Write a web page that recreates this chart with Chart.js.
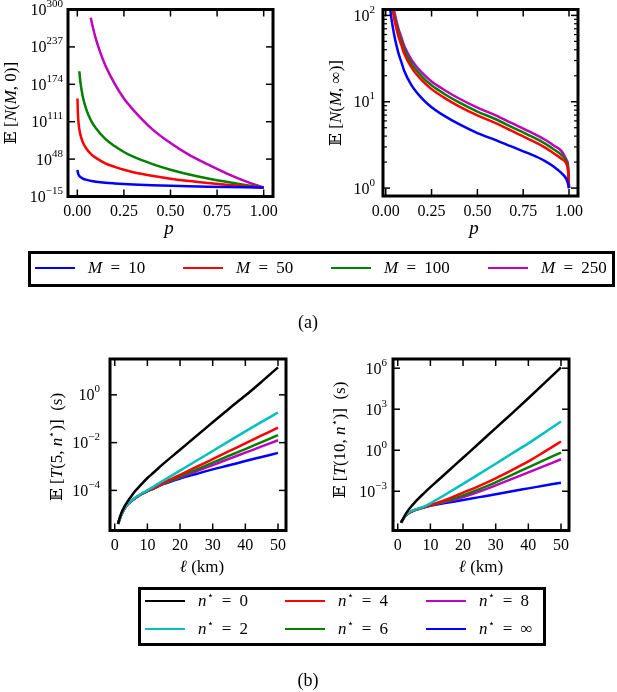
<!DOCTYPE html>
<html>
<head>
<meta charset="utf-8">
<script src="https://cdn.jsdelivr.net/npm/chart.js@4.4.1/dist/chart.umd.min.js"></script>
<style>
  html, body { margin: 0; padding: 0; background: #fff; }
  body { position: relative; width: 617px; height: 692px; overflow: hidden; font-family: "Liberation Serif", "DejaVu Serif", serif; }
  canvas { position: absolute; left: 0; top: 0; }
  .box { position: absolute; border: 3px solid #000; box-sizing: border-box; }
  .key { position: absolute; height: 2px; width: 40px; }
  .txt { position: absolute; font-size: 17px; line-height: 20px; white-space: nowrap; word-spacing: 4px; }
  .txt sup { font-size: 11px; vertical-align: 0; position: relative; top: -7px; font-family: "DejaVu Serif", serif; }
  .cap { position: absolute; font-size: 18px; line-height: 20px; width: 60px; text-align: center; }
</style>
</head>
<body>
<canvas id="panelA1" width="617" height="692"></canvas>
<canvas id="panelA2" width="617" height="692"></canvas>
<canvas id="panelB1" width="617" height="692"></canvas>
<canvas id="panelB2" width="617" height="692"></canvas>
<div class="cap" style="left:278px;top:312px">(a)</div>
<div class="cap" style="left:278px;top:670px">(b)</div>
<script>
// ---- (a) left: E[N(M,0)] against p ----
var pM10 = [0.001, 0.002, 0.005, 0.01, 0.02, 0.03, 0.05, 0.075, 0.1, 0.15, 0.2, 0.25, 0.3, 0.4, 0.5, 0.6, 0.7, 0.8, 0.9, 1.0];
var nM10 = [1e30, 1e27, 1e23, 1e20, 1e17, 1.6e15, 1e13, 1.6e11, 1e10, 1.6e8, 1e7, 1e6, 1.6e5, 1e4, 1e3, 160, 35, 9.3, 2.9, 1];
var pM50 = [0.001, 0.002, 0.005, 0.01, 0.02, 0.03, 0.05, 0.075, 0.1, 0.15, 0.2, 0.25, 0.3, 0.4, 0.5, 0.6, 0.7, 0.8, 0.9, 1.0];
var nM50 = [1e150, 1e135, 1e115, 1e100, 1e85, 1e76, 1e65, 1e56, 1e50, 1e41, 1e35, 1e30, 1e26, 1e20, 1e15, 1e11, 6e7, 7e4, 200, 1];
var pM100 = [0.011, 0.015, 0.02, 0.03, 0.05, 0.075, 0.1, 0.15, 0.2, 0.25, 0.3, 0.4, 0.5, 0.6, 0.7, 0.8, 0.9, 1.0];
var nM100 = [1e196, 1e182, 1e170, 1e152, 1e130, 1e112, 1e100, 1e82, 1e70, 1e60, 1e52, 1e40, 1e30, 1e22, 3e15, 5e9, 4e4, 1];
var pM250 = [0.072, 0.085, 0.1, 0.125, 0.15, 0.2, 0.25, 0.3, 0.4, 0.5, 0.6, 0.7, 0.8, 0.9, 1.0];
var nM250 = [1e286, 1e268, 1e250, 1e226, 1e206, 1e175, 1e150, 1e131, 1e99, 1e75, 1e55, 1e39, 1e24, 1e11, 1];

// ---- (a) right: E[N(M,inf)] against p ----
var pInf = [0.02, 0.03, 0.04, 0.05, 0.07, 0.085, 0.1, 0.14, 0.2, 0.25, 0.32, 0.4, 0.5, 0.6, 0.685, 0.78, 0.867, 0.92, 0.958, 0.985, 0.995, 1.0];
var infM10 = [140, 95, 70, 54, 36, 29, 23, 15.6, 10.8, 8.65, 6.85, 5.49, 4.34, 3.6, 3.04, 2.52, 2.07, 1.75, 1.5, 1.28, 1.12, 1.0];
var infM50 = [217, 147, 108.5, 83.7, 56.2, 45.5, 36.3, 25, 17.4, 14.0, 11.1, 8.84, 6.94, 5.65, 4.62, 3.7, 2.96, 2.5, 2.19, 1.92, 1.55, 1.0];
var infM100 = [241, 163, 120, 93, 62.4, 50.5, 40.3, 27.7, 19.3, 15.5, 12.3, 9.81, 7.7, 6.27, 5.13, 4.11, 3.29, 2.78, 2.43, 2.05, 1.68, 1.0];
var infM250 = [268, 181, 133, 103, 69.3, 56, 44.7, 30.8, 21.4, 17.2, 13.7, 10.9, 8.55, 6.96, 5.69, 4.56, 3.65, 3.08, 2.7, 2.15, 1.8, 1.0];

// ---- (b): E[T(k,n*)] in seconds, read as log10 values, against l (km) ----
var ell = [1, 2, 3, 4, 5, 6, 8, 10, 12, 15, 20, 25, 30, 35, 40, 45, 50];
var t5n0 = [-5.4, -4.95, -4.67, -4.45, -4.26, -4.07, -3.77, -3.48, -3.24, -2.87, -2.3, -1.72, -1.15, -0.58, -0.03, 0.55, 1.15];
var t5n2 = [-5.4, -5.01, -4.75, -4.57, -4.44, -4.33, -4.15, -4.0, -3.83, -3.58, -3.17, -2.76, -2.35, -1.94, -1.53, -1.13, -0.74];
var t5n4 = [-5.4, -5.02, -4.76, -4.58, -4.45, -4.34, -4.16, -4.02, -3.89, -3.68, -3.35, -3.02, -2.69, -2.36, -2.03, -1.7, -1.37];
var t5n6 = [-5.4, -5.02, -4.76, -4.58, -4.46, -4.35, -4.17, -4.03, -3.9, -3.71, -3.42, -3.13, -2.84, -2.55, -2.27, -1.98, -1.69];
var t5n8 = [-5.4, -5.02, -4.76, -4.58, -4.46, -4.35, -4.17, -4.03, -3.91, -3.72, -3.46, -3.2, -2.94, -2.68, -2.42, -2.16, -1.9];
var t5nInf = [-5.4, -5.02, -4.76, -4.58, -4.46, -4.35, -4.17, -4.03, -3.92, -3.73, -3.5, -3.31, -3.12, -2.95, -2.77, -2.6, -2.43];
var t10n0 = [-5.3, -4.85, -4.45, -4.15, -3.88, -3.62, -3.15, -2.7, -2.27, -1.63, -0.55, 0.53, 1.62, 2.7, 3.8, 4.92, 6.06];
var t10n2 = [-5.3, -4.88, -4.63, -4.48, -4.38, -4.29, -4.12, -3.88, -3.6, -3.18, -2.46, -1.73, -0.99, -0.24, 0.5, 1.3, 2.1];
var t10n4 = [-5.3, -4.9, -4.65, -4.5, -4.4, -4.31, -4.16, -4.0, -3.85, -3.6, -3.1, -2.6, -2.05, -1.45, -0.82, -0.1, 0.64];
var t10n6 = [-5.3, -4.9, -4.65, -4.5, -4.4, -4.32, -4.17, -4.03, -3.9, -3.7, -3.3, -2.85, -2.35, -1.81, -1.25, -0.7, -0.17];
var t10n8 = [-5.3, -4.9, -4.65, -4.5, -4.4, -4.32, -4.18, -4.04, -3.93, -3.76, -3.42, -3.02, -2.57, -2.1, -1.62, -1.14, -0.66];
var t10nInf = [-5.3, -4.9, -4.65, -4.5, -4.4, -4.32, -4.18, -4.06, -3.97, -3.85, -3.64, -3.43, -3.22, -3.0, -2.79, -2.58, -2.37];

// legend labels and tick labels
var mLabels = ['10', '50', '100', '250'];
var nStarLabels = ['0', '2', '4', '6', '8', '∞'];
var pTicks = [0, 0.25, 0.5, 0.75, 1];
var pTickLabels = ['0.00', '0.25', '0.50', '0.75', '1.00'];
var ellTicks = [0, 10, 20, 30, 40, 50];
var ellTickLabels = ['0', '10', '20', '30', '40', '50'];
var yTicksA1 = [1e-15, 1e48, 1e111, 1e174, 1e237, 1e300];
var yExpA1 = ['−15', '48', '111', '174', '237', '300'];
var yTicksA2 = [1, 10, 100];
var yExpA2 = ['0', '1', '2'];
var yMinorA2 = [2, 3, 4, 5, 6, 7, 8, 9, 20, 30, 40, 50, 60, 70, 80, 90];
var yTicksB1 = [1e-4, 1e-2, 1];
var yExpB1 = ['−4', '−2', '0'];
var yTicksB2 = [1e-3, 1, 1e3, 1e6];
var yExpB2 = ['−3', '0', '3', '6'];

var colorsA = ['#0000ff', '#ff0000', '#008000', '#bf00bf'];
var colorsB = ['#000000', '#00bfbf', '#ff0000', '#008000', '#bf00bf', '#0000ff'];

var W = 617, H = 692;
var SERIF = '"Liberation Serif", "DejaVu Serif", "DejaVu Sans", serif';
var R = '17px ' + SERIF, I = 'italic 17px ' + SERIF, S = '11px "DejaVu Serif", serif';

function pts(xs, ys) {
    return xs.map(function (x, i) { return { x: x, y: ys[i] }; });
}
function ptsLog(xs, es) {
    return xs.map(function (x, i) { return { x: x, y: Math.pow(10, es[i]) }; });
}

function rich(ctx, parts, x, y, rot) {
    ctx.save();
    ctx.translate(x, y);
    if (rot) ctx.rotate(rot);
    ctx.textAlign = 'left';
    ctx.textBaseline = 'alphabetic';
    var w = 0;
    parts.forEach(function (p) { ctx.font = p.f; p.w = ctx.measureText(p.t).width; w += p.w; });
    var cx = -w / 2;
    parts.forEach(function (p) { ctx.font = p.f; ctx.fillText(p.t, cx, p.dy || 0); cx += p.w; });
    ctx.restore();
}

function powLabel(ctx, e, xr, y) {
    ctx.textAlign = 'left';
    ctx.textBaseline = 'alphabetic';
    ctx.font = '16px ' + SERIF;
    var wb = ctx.measureText('10').width;
    ctx.font = '11px ' + SERIF;
    var we = ctx.measureText(e).width;
    var x0 = xr - wb - we;
    ctx.font = '16px ' + SERIF;
    ctx.fillText('10', x0, y + 5.5);
    ctx.font = '11px ' + SERIF;
    ctx.fillText(e, x0 + wb, y - 2.5);
}

function axesPlugin(p) {
    return {
        id: 'mplAxes',
        afterDatasetsDraw: function (chart) {
            var ctx = chart.ctx, xs = chart.scales.x, ys = chart.scales.y, a = chart.chartArea;
            var seg = function (x1, y1, x2, y2) { ctx.beginPath(); ctx.moveTo(x1, y1); ctx.lineTo(x2, y2); ctx.stroke(); };
            ctx.save();
            ctx.strokeStyle = '#000';
            ctx.fillStyle = '#000';
            ctx.lineWidth = 1.5;
            p.xTicks.forEach(function (v) {
                var x = xs.getPixelForValue(v);
                seg(x, a.bottom, x, a.bottom - 7);
                seg(x, a.top, x, a.top + 7);
            });
            p.yTicks.forEach(function (v) {
                var y = ys.getPixelForValue(v);
                seg(a.left, y, a.left + 7, y);
                seg(a.right, y, a.right - 7, y);
            });
            ctx.lineWidth = 1.2;
            (p.yMinor || []).forEach(function (v) {
                var y = ys.getPixelForValue(v);
                seg(a.left, y, a.left + 4, y);
                seg(a.right, y, a.right - 4, y);
            });
            ctx.lineWidth = 3;
            ctx.strokeRect(a.left, a.top, a.right - a.left, a.bottom - a.top);

            ctx.font = '16px ' + SERIF;
            ctx.textAlign = 'center';
            ctx.textBaseline = 'alphabetic';
            p.xTicks.forEach(function (v, i) {
                ctx.fillText(p.xLabels[i], xs.getPixelForValue(v), a.bottom + 19.5);
            });
            p.yTicks.forEach(function (v, i) {
                powLabel(ctx, p.yExps[i], a.left - p.gap, ys.getPixelForValue(v));
            });
            rich(ctx, p.xTitle, p.xTitlePos[0], p.xTitlePos[1], 0);
            rich(ctx, p.yTitle, p.yTitlePos[0], p.yTitlePos[1], -Math.PI / 2);
            ctx.restore();
        }
    };
}

function makePanel(id, p) {
    var a = p.area;
    return new Chart(document.getElementById(id), {
        type: 'line',
        data: {
            datasets: p.series.map(function (s) {
                return {
                    data: s.data,
                    borderColor: s.color,
                    borderWidth: 2.5,
                    pointRadius: 0,
                    fill: false,
                    cubicInterpolationMode: 'monotone'
                };
            })
        },
        options: {
            responsive: false,
            animation: false,
            devicePixelRatio: 1,
            layout: { padding: { left: a[0], top: a[1], right: W - a[2], bottom: H - a[3] } },
            plugins: { legend: { display: false }, tooltip: { enabled: false } },
            scales: {
                x: { type: 'linear', min: p.xMin, max: p.xMax, display: false },
                y: { type: 'logarithmic', min: p.yMin, max: p.yMax, display: false }
            }
        },
        plugins: [axesPlugin(p)]
    });
}

makePanel('panelA1', {
    area: [68, 9.5, 273, 196.5],
    xMin: -0.05, xMax: 1.05, yMin: 1e-15, yMax: 1e300,
    series: [
        { data: pts(pM10, nM10), color: colorsA[0] },
        { data: pts(pM50, nM50), color: colorsA[1] },
        { data: pts(pM100, nM100), color: colorsA[2] },
        { data: pts(pM250, nM250), color: colorsA[3] }
    ],
    xTicks: pTicks, xLabels: pTickLabels,
    yTicks: yTicksA1, yExps: yExpA1, gap: 5,
    xTitle: [{ t: 'p', f: 'italic 19px ' + SERIF }], xTitlePos: [169, 234],
    yTitle: [{ t: '𝔼 [', f: R }, { t: 'N', f: I }, { t: '(', f: R }, { t: 'M', f: I }, { t: ', 0)]', f: R }],
    yTitlePos: [16, 103]
});

makePanel('panelA2', {
    area: [383, 9.5, 578, 196],
    xMin: -0.015, xMax: 1.049, yMin: 0.81, yMax: 117,
    series: [
        { data: pts(pInf, infM10), color: colorsA[0] },
        { data: pts(pInf, infM50), color: colorsA[1] },
        { data: pts(pInf, infM100), color: colorsA[2] },
        { data: pts(pInf, infM250), color: colorsA[3] }
    ],
    xTicks: pTicks, xLabels: pTickLabels,
    yTicks: yTicksA2, yExps: yExpA2, yMinor: yMinorA2, gap: 8,
    xTitle: [{ t: 'p', f: 'italic 19px ' + SERIF }], xTitlePos: [474, 234],
    yTitle: [{ t: '𝔼 [', f: R }, { t: 'N', f: I }, { t: '(', f: R }, { t: 'M', f: I }, { t: ', ∞)]', f: R }],
    yTitlePos: [341, 103]
});

var seriesB1 = [t5n0, t5n2, t5n4, t5n6, t5n8, t5nInf];
var seriesB2 = [t10n0, t10n2, t10n4, t10n6, t10n8, t10nInf];

makePanel('panelB1', {
    area: [110, 359, 286, 530.5],
    xMin: -1.45, xMax: 52.45, yMin: 2.1e-6, yMax: 31.6,
    series: seriesB1.map(function (s, i) { return { data: ptsLog(ell, s), color: colorsB[i] }; }),
    xTicks: ellTicks, xLabels: ellTickLabels,
    yTicks: yTicksB1, yExps: yExpB1, gap: 10,
    xTitle: [{ t: 'ℓ', f: I }, { t: ' (km)', f: R }], xTitlePos: [202, 572],
    yTitle: [{ t: '𝔼 [', f: R }, { t: 'T', f: I }, { t: '(5, ', f: R }, { t: 'n', f: I }, { t: '⋆', f: S, dy: -7 }, { t: ')]  (s)', f: R }],
    yTitlePos: [62, 447]
});

makePanel('panelB2', {
    area: [393, 359, 569, 530.5],
    xMin: -1.45, xMax: 52.45, yMin: 1.35e-6, yMax: 4.7e6,
    series: seriesB2.map(function (s, i) { return { data: ptsLog(ell, s), color: colorsB[i] }; }),
    xTicks: ellTicks, xLabels: ellTickLabels,
    yTicks: yTicksB2, yExps: yExpB2, gap: 6,
    xTitle: [{ t: 'ℓ', f: I }, { t: ' (km)', f: R }], xTitlePos: [481, 572],
    yTitle: [{ t: '𝔼 [', f: R }, { t: 'T', f: I }, { t: '(10, ', f: R }, { t: 'n', f: I }, { t: '⋆', f: S, dy: -7 }, { t: ')]  (s)', f: R }],
    yTitlePos: [345, 440]
});

// ---- legends ----
function addBox(l, t, r, b) {
    var d = document.createElement('div');
    d.className = 'box';
    d.style.left = l + 'px'; d.style.top = t + 'px';
    d.style.width = (r - l) + 'px'; d.style.height = (b - t) + 'px';
    document.body.appendChild(d);
}
function addEntry(x, y, color, html) {
    var k = document.createElement('div');
    k.className = 'key';
    k.style.left = x + 'px'; k.style.top = (y - 1) + 'px'; k.style.background = color;
    document.body.appendChild(k);
    var t = document.createElement('div');
    t.className = 'txt';
    t.style.left = (x + 53) + 'px'; t.style.top = (y - 10) + 'px';
    t.innerHTML = html;
    document.body.appendChild(t);
}

addBox(28, 251, 615, 287);
var legAx = [35, 183, 331, 488];
mLabels.forEach(function (m, i) {
    addEntry(legAx[i], 267.5, colorsA[i], '<i>M</i> = ' + m);
});

addBox(138, 587, 546, 646);
var legBx = [145, 285, 426], legBy = [601, 628.5];
nStarLabels.forEach(function (n, i) {
    var col = Math.floor(i / 2), row = i % 2;
    addEntry(legBx[col], legBy[row], colorsB[i], '<i>n</i><sup>⋆</sup> = ' + n);
});
</script>
</body>
</html>
